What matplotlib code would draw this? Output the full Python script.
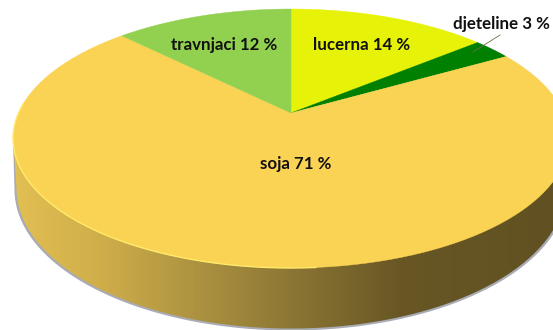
import numpy as np
import matplotlib
matplotlib.use('Agg')
import matplotlib.pyplot as plt
from matplotlib.colors import LinearSegmentedColormap
from matplotlib.patches import Polygon

# clockwise from 12 o'clock
categories = ['lucerna', 'djeteline', 'soja', 'travnjaci']
shares = [14.0, 2.7, 70.8, 12.5]  # as measured from the slices
label_pct = [14, 3, 71, 12]  # as printed on the chart
slice_colors = ['#E6F207', '#008000', '#FBD354', '#92D050']
label_xy = [(362, 45), (501, 24), (295.5, 164), (224, 45)]

# perspective of the tilted disc, in pixels
CX, R, APEX_Y = 291, 272.5, 113
C, A = 0.197, -102.2


def project(theta):
    # theta clockwise from the top of the disc
    x, y = np.sin(theta), np.cos(theta)
    d = 1 + C * y
    return CX + R * x / d, (A * y + APEX_Y) / d


def wall_outline(rx, cy, ry):
    t = np.linspace(np.pi, 0, 200)
    pts = np.column_stack([CX + rx * np.cos(t), cy + ry * np.sin(t)])
    return np.vstack([[[13, 138]], pts, [[569, 138]]])


fig = plt.figure(figsize=(5.53, 3.3), dpi=100)
ax = fig.add_axes([0, 0, 1, 1])

# thin grey shadow under the wall
ax.add_patch(Polygon(wall_outline(276.5, 189.5, 141), closed=True, fc='#A9ABB5', ec='none', zorder=1))

# side wall, lower ellipse
wall_pts = wall_outline(274.5, 188.5, 140)
wall_cmap = LinearSegmentedColormap.from_list('wall', [
    (0.0, '#E3C053'), (0.166, '#CFAE4A'), (0.35, '#AB9140'),
    (0.53, '#8A7433'), (0.72, '#685725'), (1.0, '#615122')])
im = ax.imshow(np.linspace(0, 1, 400)[None, :], cmap=wall_cmap, extent=[10, 553, 330, 130],
               aspect='auto', zorder=2)
clip = Polygon(wall_pts, closed=True, transform=ax.transData, fc='none', ec='none')
ax.add_patch(clip)
im.set_clip_path(clip)

# top face
edges = np.cumsum([0] + shares) / sum(shares) * 2 * np.pi
for i, name in enumerate(categories):
    th = np.linspace(edges[i], edges[i + 1], 120)
    px, py = project(th)
    pts = np.column_stack([np.r_[CX, px], np.r_[APEX_Y, py]])
    ax.add_patch(Polygon(pts, closed=True, fc=slice_colors[i], ec=slice_colors[i], lw=0.3, zorder=3))
    if name == 'soja':
        # pale rim on the front left of the disc
        rim = th[(th > np.radians(175)) & (th < np.radians(275))]
        rx, ry = project(rim)
        ax.plot(rx, ry, color='#FFEA6A', lw=1.0, zorder=4)

# leader line for the small slice
ax.plot([500, 473], [35, 52], color='#6E6E50', lw=0.6, zorder=5)

for name, pct, (x, y) in zip(categories, label_pct, label_xy):
    ax.text(x, y, f'{name} {pct} %', ha='center', va='center', fontsize=12.2,
            fontweight='bold', family='Lato', color='#111111', zorder=6)

ax.set_xlim(0, 553)
ax.set_ylim(330, 0)
ax.axis('off')
fig.savefig('out.png', dpi=100)
